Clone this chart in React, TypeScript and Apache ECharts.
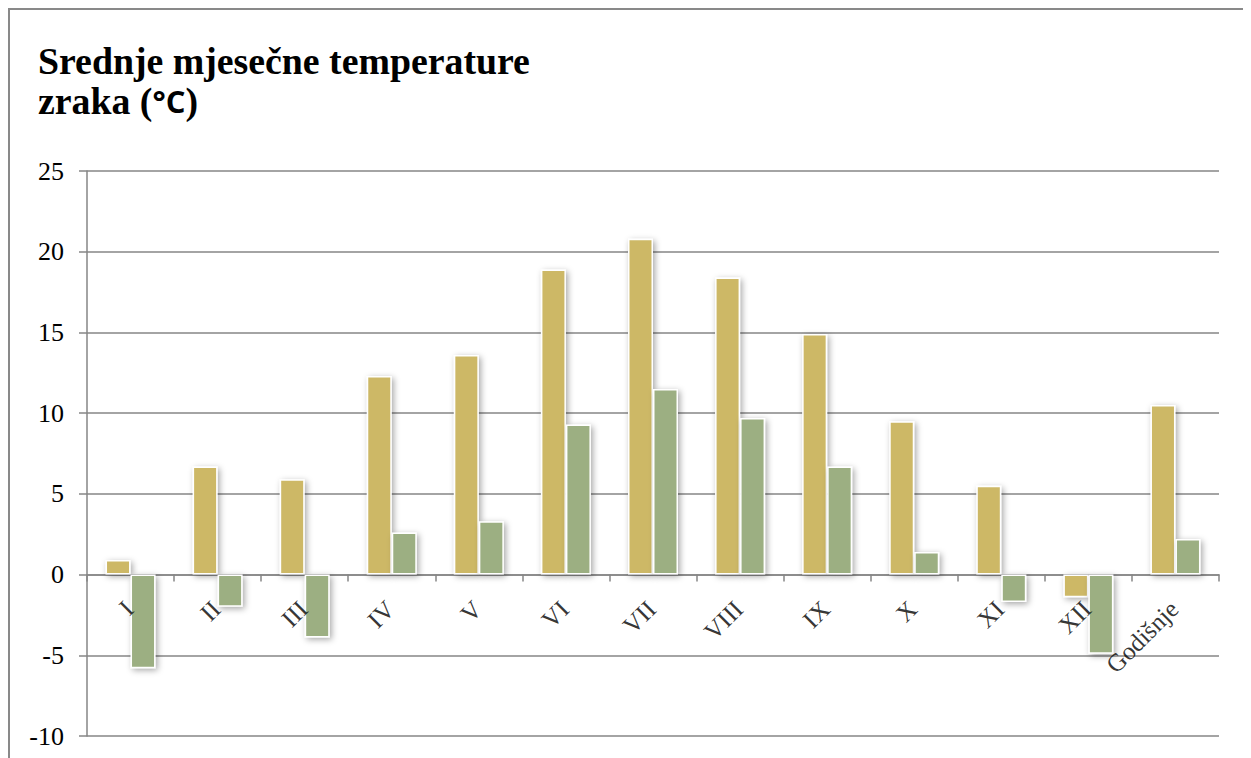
import React, { useEffect, useRef } from "react";
import * as echarts from "echarts";

const categories = ["I", "II", "III", "IV", "V", "VI", "VII", "VIII", "IX", "X", "XI", "XII", "Godišnje"];
const seriesGold = [0.9, 6.7, 5.9, 12.3, 13.6, 18.9, 20.8, 18.4, 14.9, 9.5, 5.5, -1.4, 10.5];
const seriesGreen = [-5.8, -2.0, -3.9, 2.6, 3.3, 9.3, 11.5, 9.7, 6.7, 1.4, -1.7, -4.9, 2.2];
const yTicks = { min: -10, max: 25, interval: 5 };
const labelBaseline = 0;
const titleLine1 = "Srednje mjesečne temperature";
const titleLine2a = "zraka (";
const titleLine2b = "°C";
const titleLine2c = ")";

const SERIF = "'Liberation Serif', 'Times New Roman', serif";
const SANS = "'Open Sans', 'Noto Sans', sans-serif";

export default function App() {
  const ref = useRef<HTMLDivElement>(null);
  useEffect(() => {
    if (!ref.current) return;
    const chart = echarts.init(ref.current, undefined, { renderer: "svg" });
    const barStyle = (color: string) => ({
      color,
      borderColor: "#ffffff",
      borderWidth: 1.5,
      shadowBlur: 6,
      shadowColor: "rgba(0,0,0,0.35)",
      shadowOffsetX: 2,
      shadowOffsetY: 2,
    });
    chart.setOption({
      animation: false,
      backgroundColor: "#ffffff",
      title: {
        left: 23,
        top: 26,
        text: `{a|${titleLine1}}\n{a|${titleLine2a}}{b|${titleLine2b}}{a|${titleLine2c}}`,
        textStyle: {
          rich: {
            a: { fontFamily: SERIF, fontWeight: "bold", fontSize: 37.8, color: "#000", lineHeight: 40 },
            b: { fontFamily: SANS, fontWeight: "bold", fontSize: 31, color: "#000", lineHeight: 40 },
          },
        },
      },
      grid: { left: 77, right: 49, top: 161, bottom: 40, containLabel: false, outerBoundsMode: "none" },
      xAxis: {
        type: "category",
        data: categories,
        axisLine: { onZero: true, lineStyle: { color: "#868686", width: 1.5 } },
        axisTick: { show: true, length: 7, lineStyle: { color: "#868686", width: 1.5 } },
        axisLabel: { show: false },
      },
      yAxis: {
        type: "value",
        min: yTicks.min,
        max: yTicks.max,
        interval: yTicks.interval,
        axisLine: { show: true, lineStyle: { color: "#868686", width: 1.5 } },
        axisTick: { show: true, length: 8, lineStyle: { color: "#868686", width: 1.5 } },
        splitLine: { show: true, lineStyle: { color: "#868686", width: 1.5 } },
        axisLabel: { fontFamily: SERIF, fontSize: 26, color: "#000", margin: 23 },
      },
      series: [
        { type: "bar", data: seriesGold, barWidth: 25, barGap: "0%", itemStyle: barStyle("#CDB866") },
        { type: "bar", data: seriesGreen, barWidth: 25, barGap: "0%", itemStyle: barStyle("#9CAF82") },
        {
          type: "scatter",
          silent: true,
          symbolSize: 0,
          z: 10,
          data: categories.map((c) => ({ name: c, value: [c, labelBaseline] })),
          label: {
            show: true,
            formatter: (p: any) => p.name,
            position: "bottom",
            distance: 29,
            offset: [-2, 0],
            rotate: 45,
            align: "right",
            verticalAlign: "middle",
            fontFamily: SERIF,
            fontSize: 25,
            color: "#000000",
            textBorderWidth: 0,
            textBorderColor: "transparent",
          },
        },
      ],
    });
    return () => chart.dispose();
  }, []);
  return (
    <div
      style={{
        width: 1262,
        height: 770,
        border: "2px solid #898989",
        boxSizing: "border-box",
      }}
    >
      <div ref={ref} style={{ width: 1258, height: 766 }} />
    </div>
  );
}
